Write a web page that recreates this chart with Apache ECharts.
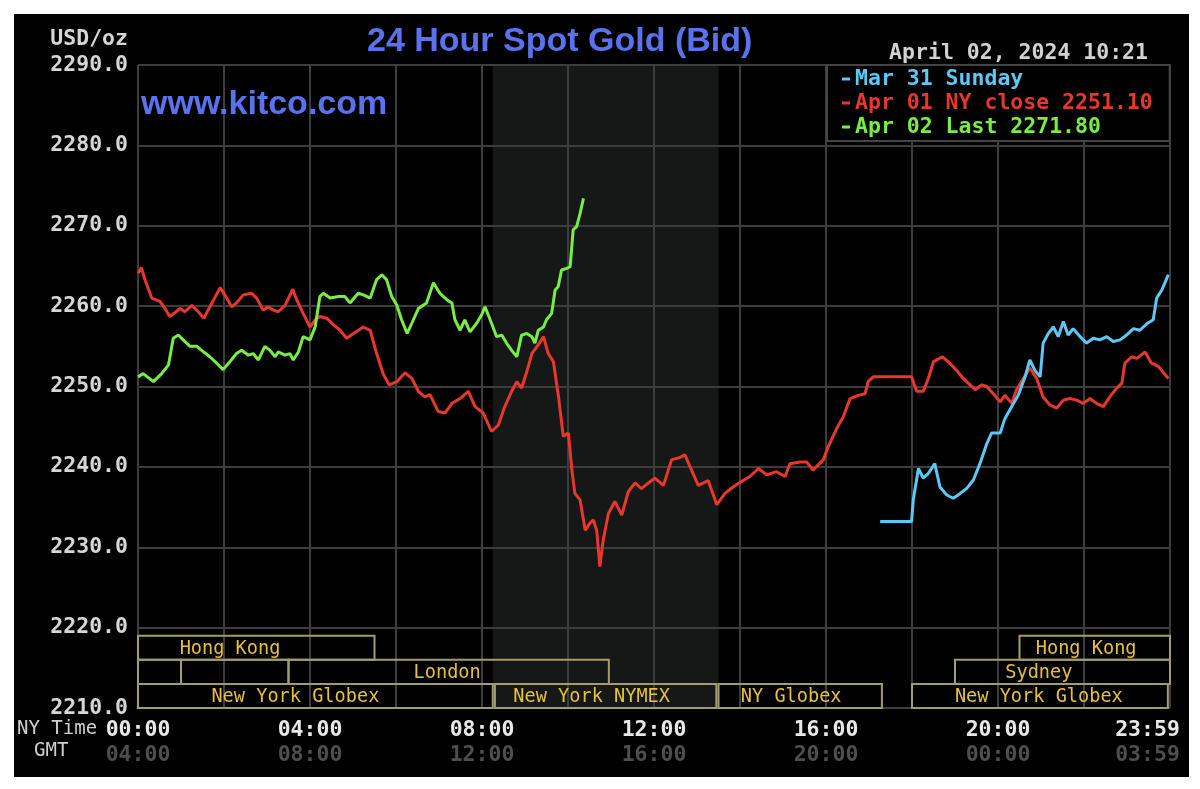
<!DOCTYPE html>
<html>
<head>
<meta charset="utf-8">
<script src="https://cdn.jsdelivr.net/npm/echarts@6.0.0/dist/echarts.min.js"></script>
<style>
html, body { margin: 0; padding: 0; background: #fff; }
#panel { position: absolute; left: 14px; top: 14px; width: 1175px; height: 763px; background: #000; }
#chart { position: absolute; left: 0; top: 0; width: 1200px; height: 789px; }
</style>
</head>
<body>
<div id="panel"></div>
<div id="chart"></div>
<script>
// [NY hour, USD/oz]
var mar31 = [
    [17.26, 2233.2], [17.99, 2233.2], [18.03, 2235.9], [18.15, 2239.8], [18.26, 2238.6], [18.38, 2239.2],
    [18.53, 2240.4], [18.65, 2237.5], [18.81, 2236.5], [18.96, 2236.1], [19.12, 2236.7], [19.27, 2237.3],
    [19.43, 2238.4], [19.58, 2240.4], [19.74, 2242.9], [19.85, 2244.2], [20.05, 2244.2], [20.16, 2246.0],
    [20.32, 2247.5], [20.47, 2248.9], [20.63, 2251.2], [20.74, 2253.3], [20.86, 2252.0], [20.98, 2251.2],
    [21.05, 2255.4], [21.17, 2256.6], [21.29, 2257.4], [21.40, 2256.2], [21.52, 2258.1], [21.63, 2256.4],
    [21.75, 2257.2], [21.91, 2256.2], [22.06, 2255.4], [22.22, 2256.0], [22.37, 2255.8], [22.53, 2256.2],
    [22.68, 2255.6], [22.84, 2255.8], [22.99, 2256.4], [23.15, 2257.2], [23.30, 2257.0], [23.46, 2257.8],
    [23.61, 2258.3], [23.69, 2261.0], [23.81, 2262.0], [23.96, 2263.9]
];
var apr01 = [
    [0, 2264.1], [0.08, 2264.8], [0.16, 2263.3], [0.32, 2261.0], [0.51, 2260.6], [0.63, 2259.7], [0.74, 2258.7],
    [0.98, 2259.7], [1.09, 2259.3], [1.25, 2260.1], [1.40, 2259.3], [1.53, 2258.5], [1.67, 2259.9], [1.91, 2262.3],
    [2.02, 2261.4], [2.18, 2259.9], [2.29, 2260.4], [2.45, 2261.4], [2.64, 2261.6], [2.76, 2261.0], [2.91, 2259.5],
    [3.03, 2259.9], [3.15, 2259.5], [3.26, 2259.3], [3.42, 2260.1], [3.60, 2262.1], [3.69, 2260.8], [3.84, 2259.1],
    [4.0, 2257.4], [4.12, 2258.3], [4.23, 2258.7], [4.39, 2258.5], [4.54, 2257.7], [4.70, 2257.0], [4.85, 2256.0],
    [5.01, 2256.6], [5.24, 2257.4], [5.40, 2257.0], [5.55, 2254.1], [5.70, 2251.6], [5.84, 2250.2], [6.02, 2250.6],
    [6.21, 2251.7], [6.37, 2251.0], [6.52, 2249.4], [6.67, 2248.7], [6.79, 2249.0], [6.98, 2246.9], [7.14, 2246.7],
    [7.30, 2247.9], [7.49, 2248.5], [7.68, 2249.4], [7.84, 2247.5], [8.03, 2246.7], [8.22, 2244.4], [8.38, 2245.2],
    [8.53, 2247.5], [8.69, 2249.4], [8.81, 2250.6], [8.92, 2249.8], [9.04, 2251.8], [9.16, 2254.1], [9.31, 2255.2],
    [9.43, 2256.2], [9.54, 2254.1], [9.66, 2253.1], [9.78, 2248.7], [9.89, 2243.8], [10.01, 2244.2], [10.09, 2239.6],
    [10.16, 2236.7], [10.28, 2235.9], [10.40, 2232.1], [10.51, 2233.0], [10.59, 2233.4], [10.67, 2232.0], [10.74, 2227.6],
    [10.82, 2230.9], [10.94, 2234.2], [11.09, 2235.7], [11.25, 2234.0], [11.40, 2236.9], [11.56, 2238.0], [11.71, 2237.3],
    [11.87, 2238.0], [12.02, 2238.6], [12.22, 2237.7], [12.41, 2240.9], [12.57, 2241.1], [12.72, 2241.5], [12.84, 2240.0],
    [13.03, 2237.7], [13.26, 2238.3], [13.46, 2235.3], [13.65, 2236.7], [13.84, 2237.5], [14.04, 2238.2], [14.23, 2238.8],
    [14.43, 2239.8], [14.62, 2239.0], [14.85, 2239.4], [15.05, 2238.8], [15.16, 2240.4], [15.40, 2240.6], [15.55, 2240.6],
    [15.70, 2239.6], [15.94, 2240.9], [16.05, 2242.5], [16.25, 2244.8], [16.40, 2246.2], [16.56, 2248.5], [16.75, 2248.9],
    [16.91, 2249.1], [16.98, 2250.6], [17.10, 2251.2], [17.41, 2251.2], [17.99, 2251.2], [18.11, 2249.4], [18.26, 2249.4],
    [18.38, 2251.0], [18.50, 2253.1], [18.71, 2253.7], [18.84, 2253.1], [19.04, 2252.0], [19.19, 2251.0], [19.35, 2250.2],
    [19.47, 2249.6], [19.62, 2250.2], [19.74, 2250.0], [19.89, 2249.1], [20.05, 2248.1], [20.16, 2248.9], [20.32, 2247.9],
    [20.43, 2249.6], [20.59, 2251.0], [20.74, 2252.3], [20.90, 2251.0], [21.05, 2248.7], [21.21, 2247.7], [21.36, 2247.3],
    [21.52, 2248.3], [21.67, 2248.5], [21.83, 2248.3], [21.98, 2247.9], [22.14, 2248.5], [22.29, 2247.9], [22.45, 2247.5],
    [22.60, 2248.7], [22.76, 2249.8], [22.88, 2250.4], [22.95, 2252.9], [23.11, 2253.7], [23.23, 2253.5], [23.42, 2254.3],
    [23.57, 2252.9], [23.73, 2252.5], [23.96, 2251.0]
];
var apr02 = [
    [0, 2251.2], [0.12, 2251.6], [0.36, 2250.6], [0.55, 2251.6], [0.71, 2252.7], [0.82, 2256.0], [0.94, 2256.4],
    [1.05, 2255.8], [1.21, 2255.0], [1.37, 2255.0], [1.48, 2254.5], [1.67, 2253.7], [1.83, 2252.9], [1.98, 2252.1],
    [2.14, 2253.1], [2.29, 2254.1], [2.41, 2254.5], [2.57, 2253.9], [2.68, 2254.1], [2.80, 2253.3], [2.95, 2255.0],
    [3.07, 2254.5], [3.19, 2253.7], [3.26, 2254.3], [3.42, 2253.9], [3.53, 2254.1], [3.61, 2253.3], [3.73, 2254.3],
    [3.84, 2256.2], [4.0, 2255.8], [4.12, 2257.4], [4.23, 2261.2], [4.31, 2261.6], [4.47, 2261.0], [4.66, 2261.2],
    [4.81, 2261.2], [4.93, 2260.4], [5.12, 2261.6], [5.24, 2261.4], [5.40, 2261.0], [5.55, 2263.3], [5.67, 2263.9],
    [5.78, 2263.3], [5.90, 2261.2], [6.02, 2260.1], [6.13, 2258.3], [6.26, 2256.6], [6.37, 2257.9], [6.52, 2259.7],
    [6.71, 2260.4], [6.87, 2262.9], [7.02, 2261.6], [7.18, 2260.8], [7.30, 2260.4], [7.37, 2258.3], [7.49, 2257.0],
    [7.60, 2258.3], [7.72, 2256.8], [7.88, 2257.9], [7.99, 2258.9], [8.07, 2259.9], [8.19, 2258.3], [8.34, 2256.2],
    [8.46, 2256.4], [8.57, 2255.4], [8.69, 2254.5], [8.81, 2253.7], [8.92, 2256.4], [9.04, 2256.6], [9.16, 2256.2],
    [9.23, 2255.4], [9.31, 2257.0], [9.43, 2257.4], [9.50, 2258.3], [9.62, 2259.1], [9.70, 2262.0], [9.77, 2262.4],
    [9.85, 2264.5], [9.97, 2264.7], [10.05, 2264.9], [10.12, 2269.5], [10.20, 2269.9], [10.28, 2271.5], [10.36, 2273.4]
];

// trading sessions (NY hours), row 0 = bottom
var sessionLabels = ['Hong Kong', '', '', 'London', 'New York Globex', 'New York NYMEX', 'NY Globex', 'Hong Kong', 'Sydney', 'New York Globex'];
var sessionStart  = [0, 0, 1.0, 3.5, 0, 8.3, 13.5, 20.5, 19.0, 18.0];
var sessionEnd    = [5.5, 1.0, 3.5, 10.95, 8.25, 13.45, 17.3, 24, 24, 23.95];
var sessionRow    = [2, 1, 1, 1, 0, 0, 0, 2, 1, 0];
var sessionTextAt = [2.14, 0.5, 2.25, 7.19, 3.66, 10.55, 15.19, 22.05, 20.95, 20.95];
var nymexHours = [8.25, 13.5];

var mono = 'DejaVu Sans Mono';
var mytest = echarts.init(document.getElementById('chart'));

function pad2(n) { return (n < 10 ? '0' : '') + n; }
function timeLabel(v, shift, last) {
    if (v % 4 !== 0) return '';
    if (v === 24) return '{e|' + last + '}';
    return pad2((v + shift) % 24) + ':00';
}
function richLast(color) {
    return { e: { padding: [0, 45, 0, 0], color: color, fontFamily: mono, fontWeight: 'bold', fontSize: 21.5 } };
}

var sessionData = sessionLabels.map(function (n, i) {
    return [sessionStart[i], sessionEnd[i], sessionRow[i], sessionTextAt[i]];
});

option = {
    backgroundColor: 'transparent',
    animation: false,
    title: [
        { text: '24 Hour Spot Gold (Bid)', left: 367, top: 25, padding: 0,
          textStyle: { color: '#5a72ee', fontFamily: 'Liberation Sans', fontWeight: 'bold', fontSize: 34 } },
        { text: 'www.kitco.com', left: 141, top: 88, padding: 0,
          textStyle: { color: '#5a72ee', fontFamily: 'Liberation Sans', fontWeight: 'bold', fontSize: 34 } },
        { text: 'April 02, 2024 10:21', right: 52, top: 42, padding: 0,
          textStyle: { color: '#d2d2d2', fontFamily: mono, fontWeight: 'bold', fontSize: 21.5 } },
        { text: 'NY Time', left: 17, top: 720, padding: 0,
          textStyle: { color: '#cfcfcf', fontFamily: mono, fontWeight: 'normal', fontSize: 19 } },
        { text: 'GMT', left: 34, top: 742, padding: 0,
          textStyle: { color: '#cfcfcf', fontFamily: mono, fontWeight: 'normal', fontSize: 19 } }
    ],
    legend: {
        orient: 'vertical',
        left: 827,
        top: 65,
        padding: [3, 17, 3, 15],
        itemGap: 2,
        itemWidth: 8,
        itemHeight: 3,
        icon: 'rect',
        selectedMode: false,
        backgroundColor: '#000',
        borderColor: '#454545',
        borderWidth: 2,
        textStyle: { fontFamily: mono, fontWeight: 'bold', fontSize: 21.5, lineHeight: 21 },
        data: [
            { name: 'Mar 31 Sunday', textStyle: { color: '#5cc8f6' } },
            { name: 'Apr 01 NY close 2251.10', textStyle: { color: '#e8372b' } },
            { name: 'Apr 02 Last 2271.80', textStyle: { color: '#78ee44' } }
        ]
    },
    grid: { left: 138, right: 30, top: 65, bottom: 81 },
    xAxis: [
        {
            type: 'value', min: 0, max: 24, interval: 2,
            axisLine: { show: false }, axisTick: { show: false },
            splitLine: { show: true, lineStyle: { color: '#3d3d3d', width: 2 } },
            axisLabel: {
                margin: 11, showMinLabel: true, showMaxLabel: true,
                color: '#e8e8e8', fontFamily: mono, fontWeight: 'bold', fontSize: 21.5,
                formatter: function (v) { return timeLabel(v, 0, '23:59'); },
                rich: richLast('#e8e8e8')
            }
        },
        {
            type: 'value', min: 0, max: 24, interval: 2, position: 'bottom',
            axisLine: { show: false }, axisTick: { show: false }, splitLine: { show: false },
            axisLabel: {
                margin: 36, showMinLabel: true, showMaxLabel: true,
                color: '#4e4e4e', fontFamily: mono, fontWeight: 'bold', fontSize: 21.5,
                formatter: function (v) { return timeLabel(v, 4, '03:59'); },
                rich: richLast('#4e4e4e')
            }
        }
    ],
    yAxis: {
        type: 'value', min: 2210, max: 2290, interval: 10,
        name: 'USD/oz', nameLocation: 'end', nameGap: 26,
        nameTextStyle: { align: 'right', verticalAlign: 'middle', padding: [0, 10, 0, 0],
            color: '#d6d6d6', fontFamily: mono, fontWeight: 'bold', fontSize: 21.5 },
        axisLine: { show: false }, axisTick: { show: false },
        splitLine: { lineStyle: { color: '#3d3d3d', width: 2 } },
        axisLabel: { margin: 10, color: '#d6d6d6', fontFamily: mono, fontWeight: 'bold', fontSize: 21.5,
            formatter: function (v) { return v.toFixed(1); } }
    },
    series: [
        {
            type: 'custom', name: 'nymex', silent: true, z: -1,
            data: [nymexHours],
            renderItem: function (params, api) {
                var a = api.coord([api.value(0), 2290]);
                var b = api.coord([api.value(1), 2210]);
                return { type: 'rect', shape: { x: a[0], y: a[1], width: b[0] - a[0], height: b[1] - a[1] },
                    style: { fill: '#161817' } };
            }
        },
        {
            type: 'custom', name: 'sessions', silent: true, z: 1, clip: false,
            data: sessionData,
            renderItem: function (params, api) {
                var row = api.value(2);
                var bottom = 2210 + row * 3, top = bottom + 3;
                var a = api.coord([api.value(0), top]);
                var b = api.coord([api.value(1), bottom]);
                var tx = api.coord([api.value(3), bottom])[0];
                return {
                    type: 'group',
                    children: [
                        { type: 'rect', shape: { x: a[0], y: a[1], width: b[0] - a[0], height: b[1] - a[1] },
                          style: { fill: 'none', stroke: '#a39d6b', lineWidth: 2 } },
                        { type: 'text', x: tx, y: (a[1] + b[1]) / 2 + 1,
                          style: { text: sessionLabels[params.dataIndex], fill: '#e6c13c',
                              font: '18.6px "DejaVu Sans Mono"', align: 'center', verticalAlign: 'middle' } }
                    ]
                };
            }
        },
        {
            name: 'Mar 31 Sunday', type: 'line', data: mar31, symbol: 'none', showSymbol: false, z: 4,
            itemStyle: { color: '#5cc8f6' }, lineStyle: { width: 3, color: '#5cc8f6' }
        },
        {
            name: 'Apr 01 NY close 2251.10', type: 'line', data: apr01, symbol: 'none', showSymbol: false, z: 3,
            itemStyle: { color: '#e8372b' }, lineStyle: { width: 3, color: '#e8372b' }
        },
        {
            name: 'Apr 02 Last 2271.80', type: 'line', data: apr02, symbol: 'none', showSymbol: false, z: 3,
            itemStyle: { color: '#78ee44' }, lineStyle: { width: 3, color: '#78ee44' }
        }
    ]
};
mytest.setOption(option);
</script>
</body>
</html>
